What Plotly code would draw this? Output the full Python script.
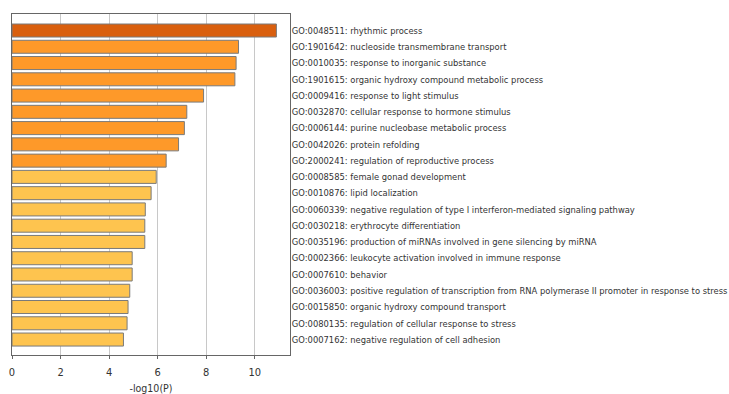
import plotly.graph_objects as go

terms = [
    "GO:0048511: rhythmic process",
    "GO:1901642: nucleoside transmembrane transport",
    "GO:0010035: response to inorganic substance",
    "GO:1901615: organic hydroxy compound metabolic process",
    "GO:0009416: response to light stimulus",
    "GO:0032870: cellular response to hormone stimulus",
    "GO:0006144: purine nucleobase metabolic process",
    "GO:0042026: protein refolding",
    "GO:2000241: regulation of reproductive process",
    "GO:0008585: female gonad development",
    "GO:0010876: lipid localization",
    "GO:0060339: negative regulation of type I interferon-mediated signaling pathway",
    "GO:0030218: erythrocyte differentiation",
    "GO:0035196: production of miRNAs involved in gene silencing by miRNA",
    "GO:0002366: leukocyte activation involved in immune response",
    "GO:0007610: behavior",
    "GO:0036003: positive regulation of transcription from RNA polymerase II promoter in response to stress",
    "GO:0015850: organic hydroxy compound transport",
    "GO:0080135: regulation of cellular response to stress",
    "GO:0007162: negative regulation of cell adhesion",
]
neglog10p = [10.89, 9.33, 9.23, 9.18, 7.89, 7.20, 7.10, 6.86, 6.35, 5.94,
             5.73, 5.49, 5.47, 5.47, 4.95, 4.95, 4.85, 4.78, 4.74, 4.59]
color_group = [0, 1, 1, 1, 1, 1, 1, 1, 1, 2,
               2, 2, 2, 2, 2, 2, 2, 2, 2, 2]
palette = ["#D95F0E", "#FE9929", "#FEC44F"]
x_ticks = [0, 2, 4, 6, 8, 10]

colors = [palette[g] for g in color_group]

fig = go.Figure(go.Bar(
    x=neglog10p,
    y=terms,
    orientation="h",
    marker=dict(color=colors, line=dict(color="#7a7a7a", width=1)),
    width=0.8,
))

font_family = "DejaVu Sans Condensed"

fig.update_layout(
    width=729, height=394,
    margin=dict(l=12, r=439, t=14, b=39, autoexpand=False),
    paper_bgcolor="white",
    plot_bgcolor="white",
    showlegend=False,
    font=dict(family=font_family, size=10, color="#333333"),
)
fig.update_xaxes(
    range=[0, 11.45],
    tickvals=x_ticks,
    showgrid=True, gridcolor="#c8c8c8", gridwidth=1,
    zeroline=False,
    showline=True, linecolor="#666666", linewidth=1, mirror=True,
    ticks="outside", ticklen=3, tickcolor="#666666",
    ticklabelstandoff=4,
    tickfont=dict(family=font_family, size=11, color="#333333"),
    title=dict(text="-log10(P)", font=dict(family=font_family, size=10.5, color="#333333"), standoff=8),
)
fig.update_yaxes(
    categoryorder="array", categoryarray=terms,
    range=[19.95, -1.015],
    side="right",
    showgrid=False,
    showline=True, linecolor="#666666", linewidth=1, mirror=True,
    ticks="", ticklabelstandoff=-1,
    tickfont=dict(family=font_family, size=9.3, color="#333333"),
    automargin=False,
)

fig.write_html("out.html")
